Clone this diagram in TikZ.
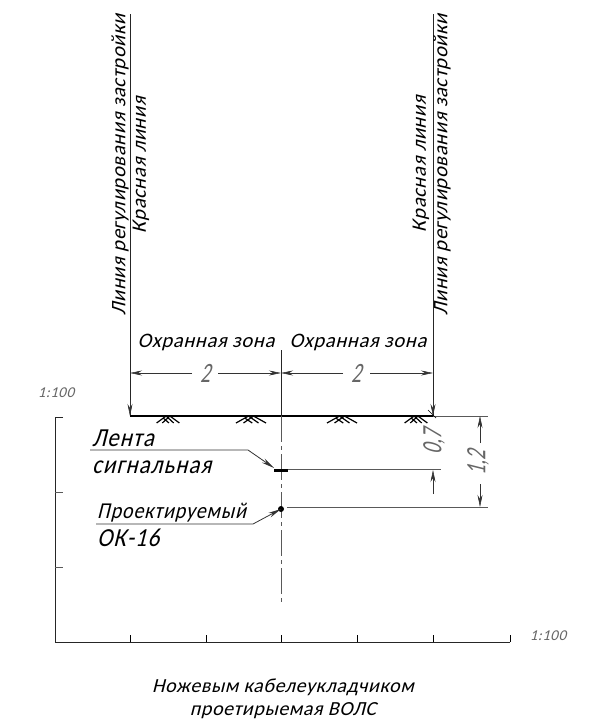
\documentclass[tikz,border=0pt]{standalone}
\usepackage{fontspec}
\setmainfont{Liberation Sans}
\newfontfamily\isofont[FakeSlant=0.25,LetterSpace=3]{Carlito}
\newfontfamily\dimfont[FakeSlant=0.25,FakeStretch=0.7]{Carlito}
\newfontfamily\tallfont[FakeSlant=0.25,FakeStretch=0.88,LetterSpace=4]{Carlito}
\usetikzlibrary{arrows,arrows.meta,positioning}
\tikzstyle{thin line}=[line width=0.7pt,black!65]
\tikzstyle{main line}=[line width=1pt,black!85]
\tikzstyle{ground}=[line width=1.6pt,black]
\tikzstyle{dimtip}=[line width=0.6pt,black!80,-{Stealth[length=12pt,width=5pt]}]
\tikzstyle{leader}=[line width=0.8pt,black!80,-{Stealth[length=13pt,width=5pt]}]
\tikzstyle{lbl}=[font=\isofont\fontsize{20.6}{21}\selectfont,text=black,inner sep=0pt]
\tikzstyle{caplbl}=[font=\isofont\fontsize{20}{20}\selectfont,text=black,inner sep=0pt]
\tikzstyle{biglbl}=[font=\tallfont\fontsize{26}{26}\selectfont,text=black,inner sep=0pt]
\tikzstyle{midlbl}=[font=\tallfont\fontsize{22.7}{23}\selectfont,text=black,inner sep=0pt]
\tikzstyle{dimlbl}=[font=\dimfont\fontsize{28}{28}\selectfont,text=black!60,inner sep=0pt]
\tikzstyle{scalelbl}=[font=\isofont\fontsize{15}{15}\selectfont,text=black!60,inner sep=0pt]
\tikzset{grass/.pic={
    \draw[line width=1.2pt,black] (-12,7) -- (-2,0) (-6,7) -- (2,0) (12,7) -- (2,0) (6,7) -- (-2,0) (1,7) -- (-5,2);
}}
\begin{document}
\begin{tikzpicture}[x=1pt,y=-1pt]
        \useasboundingbox (0,0) rectangle (605,720);
        % points of the section
        \coordinate (topl) at (130,14);
        \coordinate (topr) at (433,14);
        \coordinate (gl) at (130,416);
        \coordinate (gc) at (281,416);
        \coordinate (gr) at (433,416);
        \coordinate (gend) at (488,416);
        \coordinate (cenTop) at (281,350);
        \coordinate (cenEnd) at (281,603);
        \coordinate (tape) at (281,469);
        \coordinate (cable) at (281,509);
        % vertical lines and ground
        \draw[main line] (topl) -- (gl);
        \draw[main line] (topr) -- (gr);
        \draw[ground] (gl) -- (gr);
        \draw[thin line] (gr) -- (gend);
        \draw[main line] (cenTop) -- (gc);
        \draw[thin line,dash pattern=on 26pt off 4pt on 4pt off 4pt] (gc) -- (cenEnd);
        \pic[xscale=0.95] at (168,416) {grass};
        \pic[xscale=1.25] at (251,416) {grass};
        \pic[xscale=1.25] at (342,416) {grass};
        \pic[xscale=0.95] at (416,416) {grass};
        \draw[line width=0.7pt,black] (428,410) -- (436,418);
        % labels of the vertical lines
        \node[lbl,rotate=90] (lineL) at (120,165) {Линия регулирования застройки};
        \node[lbl,rotate=90] (redL) at (141,165) {Красная линия};
        \node[lbl,rotate=90] (redR) at (421,164) {Красная линия};
        \node[lbl,rotate=90] (lineR) at (442,165) {Линия регулирования застройки};
        \node[lbl] (zoneL) at (206,342) {Охранная зона};
        \node[lbl] (zoneR) at (358,342) {Охранная зона};
        % dimensions 2
        \node[dimlbl] (dimL) at (205,373) {2};
        \node[dimlbl] (dimR) at (356,373) {2};
        \coordinate (dl) at (130,373);
        \coordinate (dc) at (281,373);
        \coordinate (dr) at (433,373);
        \draw[dimtip] (192,373) -- (dl);
        \draw[dimtip] (218,373) -- (dc);
        \draw[dimtip] (343,373) -- (dc);
        \draw[dimtip] (370,373) -- (dr);
        % tape and cable
        \node[biglbl,anchor=west] (tapeA) at (92,438) {Лента};
        \node[biglbl,anchor=west] (tapeB) at (92,467) {сигнальная};
        \node[midlbl,anchor=west] (cableA) at (97,513) {Проектируемый};
        \node[biglbl,anchor=west] (cableB) at (97,538) {ОК-16};
        \draw[ground,line width=3pt] (274,470) -- (288,470);
        \fill (cable) circle (3pt);
        \draw[thin line] (288,469) -- (441,469);
        \draw[thin line] (287,507) -- (488,507);
        \coordinate (leadA) at (90,450);
        \coordinate (leadC) at (96,524);
        \draw[leader] (leadA) -- (248,450) -- (274,468);
        \draw[leader] (leadC) -- (253,524) -- (cable);
        % dimensions 0,7 and 1,2
        \draw[dimtip] (433,494) -- (433,470);
        \draw[dimtip] (433,400) -- (gr);
        \draw[dimtip] (130,400) -- (gl);
        \node[dimlbl,rotate=90] (dimA) at (434,442) {0,7};
        \draw[dimtip] (480,443) -- (480,416);
        \draw[dimtip] (480,484) -- (480,507);
        \node[dimlbl,rotate=90] (dimB) at (478,463) {1,2};
        % scale axes
        \coordinate (orig) at (55,642);
        \draw[main line] (63,417) -- (55,417) -- (orig) -- (510,642);
        \foreach \ty in {492,567}
            \draw[thin line] (55,\ty) -- (63,\ty);
        \foreach \tx in {130,206,281,357,433,510}
            \draw[thin line,black] (\tx,635) -- (\tx,642);
        \node[scalelbl] (scaleY) at (56,393) {1:100};
        \node[scalelbl] (scaleX) at (548,636) {1:100};
        % caption
        \node[caplbl] (capA) at (283,687) {Ножевым кабелеукладчиком};
        \node[caplbl] (capB) at (283,711) {проетирыемая ВОЛС};
\end{tikzpicture}
\end{document}
